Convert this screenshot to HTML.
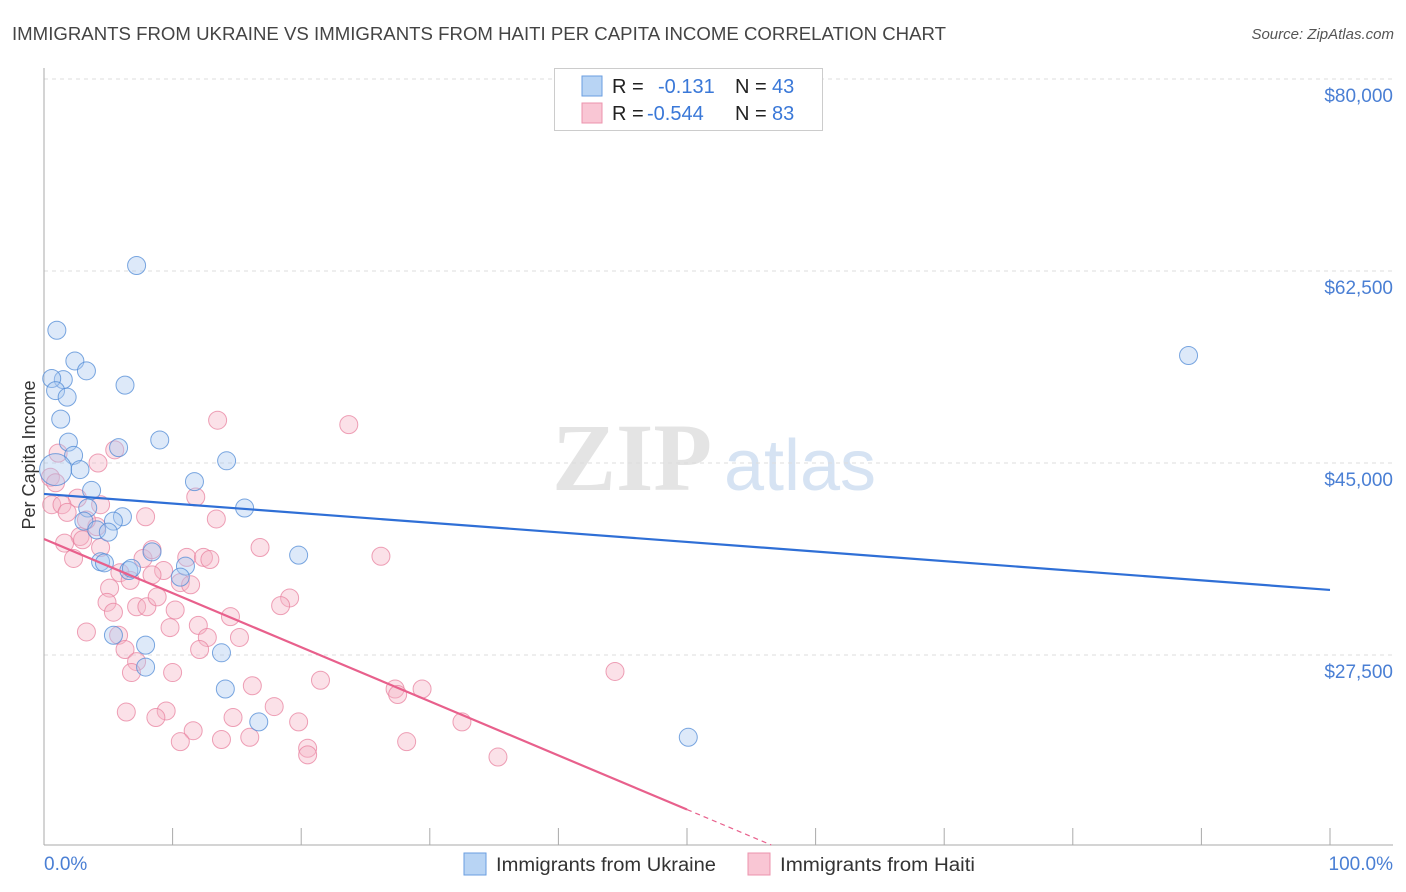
<!DOCTYPE html>
<html><head><meta charset="utf-8">
<style>
body{margin:0;background:#fff;font-family:"Liberation Sans",sans-serif;}
svg{display:block}
</style></head>
<body>
<svg id="chart" width="1406" height="892" viewBox="0 0 1406 892">
<text x="12" y="40" font-size="18" fill="#444" textLength="934" lengthAdjust="spacingAndGlyphs">IMMIGRANTS FROM UKRAINE VS IMMIGRANTS FROM HAITI PER CAPITA INCOME CORRELATION CHART</text>
<text x="1394" y="39" font-size="15" fill="#555" text-anchor="end" font-style="italic">Source: ZipAtlas.com</text>
<g>
<text x="632" y="490" font-size="96" fill="#e4e4e4" text-anchor="middle" font-family="Liberation Serif, serif" font-weight="bold">ZIP</text>
<text x="800" y="490" font-size="72" fill="#d6e3f3" text-anchor="middle">atlas</text>
</g>
<g id="grid"></g>
<g id="axes"></g>
<g id="marks"></g>
<g id="trends"></g>
<text x="35" y="455" font-size="18" fill="#333" text-anchor="middle" transform="rotate(-90 35 455)">Per Capita Income</text>
<text x="44" y="870" font-size="19" fill="#4a7fd4">0.0%</text>
<text x="1393" y="870" font-size="19" fill="#4a7fd4" text-anchor="end">100.0%</text>
<g>
<rect x="554.5" y="68.5" width="268" height="62" fill="#fff" stroke="#ccc"/>
<rect x="582" y="76" width="20" height="20" fill="#b8d4f4" stroke="#6a9ee0"/>
<rect x="582" y="103" width="20" height="20" fill="#f9c6d4" stroke="#ec93ad"/>
<text y="93" font-size="20" fill="#222"><tspan x="612">R =</tspan><tspan x="658" fill="#3a78d8">-0.131</tspan><tspan x="735">N =</tspan><tspan x="772" fill="#3a78d8">43</tspan></text>
<text y="120" font-size="20" fill="#222"><tspan x="612">R =</tspan><tspan x="647" fill="#3a78d8">-0.544</tspan><tspan x="735">N =</tspan><tspan x="772" fill="#3a78d8">83</tspan></text>
</g>
<g>
<rect x="464" y="853" width="22" height="22" fill="#b8d4f4" stroke="#6a9ee0"/>
<text x="496" y="871" font-size="19" fill="#333" textLength="220" lengthAdjust="spacingAndGlyphs">Immigrants from Ukraine</text>
<rect x="748" y="853" width="22" height="22" fill="#f9c6d4" stroke="#ec93ad"/>
<text x="780" y="871" font-size="19" fill="#333" textLength="195" lengthAdjust="spacingAndGlyphs">Immigrants from Haiti</text>
</g>
</svg>
<script>
const yTicks=[27500,45000,62500,80000];
const yTickLabels=["$27,500","$45,000","$62,500","$80,000"];
const xTicks=[0,10,20,30,40,50,60,70,80,90,100];
const ukraineX=[7.2,1.0,2.4,3.3,1.5,6.3,0.6,0.9,1.8,1.3,1.9,9.0,5.8,2.3,14.2,2.8,11.7,3.7,15.6,3.4,3.1,6.1,5.4,4.1,5.0,8.4,19.8,4.4,6.6,4.7,6.8,11.0,10.6,5.4,7.9,13.8,7.9,14.1,16.7,50.1,89.0];
const ukraineY=[63000,57100,54300,53400,52600,52100,52700,51600,51000,49000,46900,47100,46400,45700,45200,44400,43300,42500,40900,40900,39700,40100,39700,38900,38700,36900,36600,36000,35200,35900,35400,35600,34600,29300,28400,27700,26400,24400,21400,20000,54800];
const ukraineBigX=[0.9];
const ukraineBigY=[44400];
const haitiX=[13.5,23.7,4.2,5.5,1.1,0.5,0.9,2.6,4.4,0.6,1.4,1.8,7.9,11.8,13.4,16.8,2.8,4.1,3.3,1.6,2.3,3.0,4.4,5.9,6.7,7.7,8.4,9.3,8.4,11.1,12.4,12.9,10.6,11.4,5.1,4.9,5.4,7.2,8.0,8.8,10.2,9.8,12.0,12.7,14.5,15.2,3.3,5.8,6.3,7.2,6.8,12.1,10.0,16.2,19.1,18.4,17.9,19.8,14.7,16.0,13.8,11.6,10.6,9.5,8.7,6.4,20.5,20.5,21.5,26.2,27.3,27.5,29.4,28.2,32.5,35.3,44.4];
const haitiY=[48900,48500,45000,46200,45900,43700,43200,41800,41200,41200,41200,40500,40100,41900,39900,37300,38300,39200,39800,37700,36300,38000,37300,35000,34300,36300,37100,35200,34800,36400,36400,36200,34100,33900,33600,32300,31400,31900,31900,32800,31600,30000,30200,29100,31000,29100,29600,29300,28000,26900,25900,28000,25900,24700,32700,32000,22800,21400,21800,20000,19800,20600,19600,22400,21800,22300,19000,18400,25200,36500,24400,23900,24400,19600,21400,18200,26000];
const ukraineTrend=[42180,33430];
const haitiTrend=[38070,-11240];
const NS="http://www.w3.org/2000/svg";
const X0=44,X1=1330,YB=845;
function sx(p){return X0+(X1-X0)*p/100;}
function sy(v){return 655-(v-27500)*192/17500;}
function mk(tag,attrs,parent){const e=document.createElementNS(NS,tag);for(const k in attrs)e.setAttribute(k,attrs[k]);parent.appendChild(e);return e;}
const grid=document.getElementById('grid'),axes=document.getElementById('axes'),marks=document.getElementById('marks'),trends=document.getElementById('trends');
yTicks.forEach((t,i)=>{
 const l=mk('line',{x1:X0,x2:1393,y1:sy(t),y2:sy(t),stroke:'#ddd','stroke-dasharray':'4 4'},grid);
 
 
 const tx=mk('text',{x:1393,y:sy(t)+23,'font-size':19,fill:'#4a7fd4','text-anchor':'end'},grid);
 tx.textContent=yTickLabels[i];
 
 
});
const ya=mk('line',{x1:X0,x2:X0,y1:68,y2:YB,stroke:'#aaa'},axes);


const xa=mk('line',{x1:X0,x2:1393,y1:YB,y2:YB,stroke:'#aaa'},axes);


xTicks.forEach(t=>{
 const l=mk('line',{x1:sx(t),x2:sx(t),y1:828,y2:YB,stroke:'#aaa'},axes);
 
 
});
function dot(x,y,r,fill,stroke,name){
 const c=mk('circle',{cx:sx(x),cy:sy(y),r:r,fill:fill,'fill-opacity':0.4,stroke:stroke,'stroke-opacity':0.75,'stroke-width':1},marks);
 
 
}
haitiX.forEach((x,i)=>dot(x,haitiY[i],9,'#f5b3c6','#e8829f','haiti-point'));
ukraineX.forEach((x,i)=>dot(x,ukraineY[i],9,'#a9c9f0','#4f8ad6','ukraine-point'));
ukraineBigX.forEach((x,i)=>dot(x,ukraineBigY[i],16,'#a9c9f0','#4f8ad6','ukraine-point'));
const bl=mk('line',{x1:sx(0),y1:sy(ukraineTrend[0]),x2:sx(100),y2:sy(ukraineTrend[1]),stroke:'#2f6fd6','stroke-width':2.2},trends);


function hy(p){return haitiTrend[0]+(haitiTrend[1]-haitiTrend[0])*p/100;}
const pl=mk('line',{x1:sx(0),y1:sy(hy(0)),x2:sx(50),y2:sy(hy(50)),stroke:'#e8608c','stroke-width':2.2},trends);


const vb=27500-(YB-655)*17500/192;
const pEnd=(vb-haitiTrend[0])/(haitiTrend[1]-haitiTrend[0])*100;
const pd=mk('line',{x1:sx(50),y1:sy(hy(50)),x2:sx(pEnd),y2:sy(hy(pEnd)),stroke:'#e8608c','stroke-width':1.2,'stroke-dasharray':'5 4'},trends);


</script>
</body></html>
